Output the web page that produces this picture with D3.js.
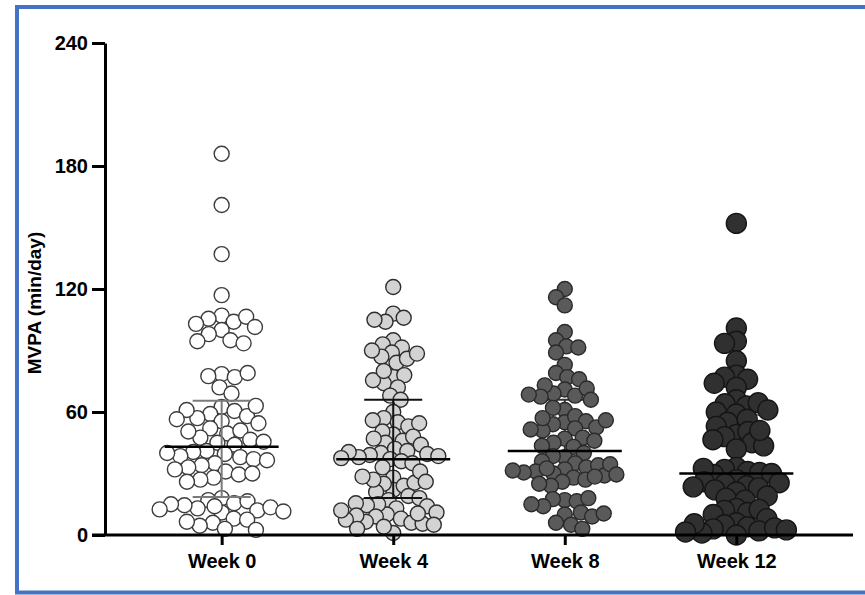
<!DOCTYPE html>
<html>
<head>
<meta charset="utf-8">
<script src="https://cdn.jsdelivr.net/npm/d3@7"></script>
<style>
  html, body { margin: 0; padding: 0; background: #fff; }
  svg { display: block; font-family: "Liberation Sans", Arial, sans-serif; }
</style>
</head>
<body>
<svg id="chart" width="865" height="595"></svg>
<script>
// MVPA (min/day) per participant at each visit
const categories = ["Week 0", "Week 4", "Week 8", "Week 12"];

const week0 = [186, 161, 137, 117,
  107, 105.5, 104, 106.5, 103, 101.5, 100, 98,
  95, 93.5, 94.5,
  78.5, 77.5, 77, 79, 72, 69,
  62.5, 59, 60.5, 57, 55.5, 58, 61, 54.5, 56.5, 63,
  52, 49.5, 51, 47.5, 50.5, 45, 46.5, 45.5, 44,
  41, 39.5, 38, 40.5, 37, 38.5, 35, 36.5, 34, 40,
  31, 28, 29.5, 33, 30, 27, 32, 26,
  18, 17, 15.5, 16.5,
  13, 12, 14.5, 13.5, 11, 15, 11.5, 12.5, 14,
  6, 8, 7.5, 4.5, 3, 6.5, 2.5];

const week4 = [121,
  108, 104, 106, 105,
  95, 93, 91.5, 89, 87, 84, 86, 90, 88.5,
  77, 74, 78, 75.5, 72, 68, 66, 80,
  60,
  57, 55, 53, 56, 54.5,
  49, 50.5, 46, 45, 42, 48, 47, 44, 41,
  40, 39, 37, 39.5, 36, 38, 40.5, 38.5, 35, 37.5, 33,
  28, 22, 25, 24, 21, 25.5, 27, 31, 28.5, 26, 19, 17, 18,
  13, 10, 15, 8, 14.5, 9, 6, 6.5, 5.5, 14, 15.5, 9.5, 10.5, 11, 7.5, 12, 1, 4, 5, 3];

const week8 = [120, 116, 112, 99,
  95, 92, 89, 91.5,
  83, 79,
  77, 76, 71, 69, 68, 71.5, 73, 67.5, 66, 68.5,
  61, 62, 55, 54, 58, 55.5, 52, 51, 52.5, 51.5, 56, 57,
  47, 45, 47.5, 43, 43.5, 38, 46, 40, 38.5, 36, 35,
  32, 33, 30, 28, 31, 34, 30.5, 29, 34.5, 31.5, 29.5, 26, 32.5, 27, 24, 25, 28.5,
  17, 17.5, 16.5, 18, 14, 15, 10, 6, 11, 9, 5, 3, 10.5];

const week12 = [152, 101, 94.5, 93.5, 85,
  78, 77, 76, 72, 74,
  66, 64, 63, 64.5, 59, 60, 55, 56.5, 53, 49, 48, 50.5, 45, 46.5, 42, 43.5, 61, 51,
  33, 32, 31, 30.5, 29.5, 32.5, 30,
  27, 25, 24, 23, 26, 22, 25.5, 21, 23.5,
  18, 17, 19,
  13, 12, 11, 12.5, 10, 8,
  6, 5, 4, 3, 2, 1, 3.5, 5.5, 2.5, 1.5, 0];

// median and interquartile range per visit
const medians = [43, 37, 41, 30];
const q1Values = [18.5, 18, 26, 4];
const q3Values = [65.5, 66, 66, 58.5];

const yTicks = [0, 60, 120, 180, 240];

// appearance per visit
const series = [week0, week4, week8, week12];
const fills = ["#ffffff", "#d3d3d3", "#5a5a5a", "#303030"];
const strokes = ["#3c3c3c", "#2e2e2e", "#2a2a2a", "#151515"];
const radii = [7.5, 7.5, 7.5, 10];
const packing = [0.9, 0.75, 0.8, 0.6];
const halfWidths = [62, 52, 52, 52];
const iqrColors = ["#7a7a7a", "#111111", "#333333", "#808080"];
const iqrOnTop = [true, true, false, false];

const svg = d3.select("#chart");

// frame
svg.append("rect")
  .attr("x", 17).attr("y", 7)
  .attr("width", 870).attr("height", 585.5)
  .attr("fill", "none")
  .attr("stroke", "#4472c4")
  .attr("stroke-width", 4);

const y = d3.scaleLinear().domain([0, 240]).range([535, 43]);
const x = d3.scalePoint().domain(categories).range([105, 853]).padding(0.68);

// beeswarm placement: nearest free offset within the column width,
// otherwise the least crowded offset inside it
function swarm(values, minDist, maxHalf) {
  const placed = [];
  const md2 = minDist * minDist;
  const free = (c, py) => placed.every(p => (p.dx - c) ** 2 + (p.y - py) ** 2 >= md2 - 1e-6);
  values.forEach(v => {
    const py = y(v);
    const cands = [0];
    for (const p of placed) {
      const dy = py - p.y;
      if (Math.abs(dy) < minDist) {
        const dx = Math.sqrt(md2 - dy * dy);
        cands.push(p.dx + dx, p.dx - dx);
      }
    }
    cands.sort((a, b) => Math.abs(a) - Math.abs(b) || a - b);
    let best = null;
    for (const c of cands) {
      if (Math.abs(c) <= maxHalf && free(c, py)) { best = c; break; }
    }
    if (best === null) {
      let bestScore = -1;
      for (let c = -maxHalf; c <= maxHalf; c += 1) {
        let m = Infinity;
        for (const p of placed) m = Math.min(m, (p.dx - c) ** 2 + (p.y - py) ** 2);
        if (m > bestScore + 1e-6 || (Math.abs(m - bestScore) < 1e-6 && Math.abs(c) < Math.abs(best))) {
          bestScore = m; best = c;
        }
      }
    }
    placed.push({ v, y: py, dx: best });
  });
  return placed;
}

const medHalf = 57, capHalf = 29;

function drawIQR(g, i) {
  const cx = x(categories[i]);
  const col = iqrColors[i];
  g.append("line").attr("x1", cx).attr("x2", cx)
    .attr("y1", y(q1Values[i])).attr("y2", y(q3Values[i]))
    .attr("stroke", col).attr("stroke-width", 2);
  [q1Values[i], q3Values[i]].forEach(q => {
    g.append("line").attr("x1", cx - capHalf).attr("x2", cx + capHalf)
      .attr("y1", y(q)).attr("y2", y(q))
      .attr("stroke", col).attr("stroke-width", 2);
  });
}

series.forEach((vals, i) => {
  const g = svg.append("g");
  const cx = x(categories[i]);
  if (!iqrOnTop[i]) drawIQR(g, i);
  const pts = swarm(vals, radii[i] * 2 * packing[i], halfWidths[i]);
  g.selectAll("circle").data(pts).join("circle")
    .attr("cx", d => cx + d.dx)
    .attr("cy", d => y(d.v))
    .attr("r", radii[i])
    .attr("fill", fills[i])
    .attr("stroke", strokes[i])
    .attr("stroke-width", 1.4);
  if (iqrOnTop[i]) drawIQR(g, i);
  g.append("line")
    .attr("x1", cx - medHalf).attr("x2", cx + medHalf)
    .attr("y1", y(medians[i])).attr("y2", y(medians[i]))
    .attr("stroke", "#000").attr("stroke-width", 2.5);
});

// axes
const yAxis = d3.axisLeft(y).tickValues(yTicks).tickSize(13).tickSizeOuter(0).tickPadding(4);
const gy = svg.append("g").attr("transform", "translate(105,0)").call(yAxis);
gy.select(".domain").attr("stroke", "#000").attr("stroke-width", 3);
gy.selectAll(".tick line").attr("stroke", "#000").attr("stroke-width", 3);
gy.selectAll(".tick text")
  .attr("font-size", 20).attr("font-weight", "bold").attr("fill", "#000")
  .attr("font-family", "'Liberation Sans', Arial, sans-serif");

const xAxis = d3.axisBottom(x).tickSize(10).tickSizeOuter(0).tickPadding(9);
const gx = svg.append("g").attr("transform", "translate(0,535)").call(xAxis);
gx.select(".domain").remove();
gx.append("line").attr("x1", 92).attr("x2", 853).attr("y1", 0).attr("y2", 0)
  .attr("stroke", "#000").attr("stroke-width", 3);
gx.selectAll(".tick line").attr("stroke", "#000").attr("stroke-width", 3);
gx.selectAll(".tick text")
  .attr("font-size", 20).attr("font-weight", "bold").attr("fill", "#000")
  .attr("font-family", "'Liberation Sans', Arial, sans-serif");

svg.append("text")
  .attr("transform", "translate(41,303) rotate(-90)")
  .attr("text-anchor", "middle")
  .attr("font-size", 19).attr("font-weight", "bold")
  .text("MVPA (min/day)");
</script>
</body>
</html>
